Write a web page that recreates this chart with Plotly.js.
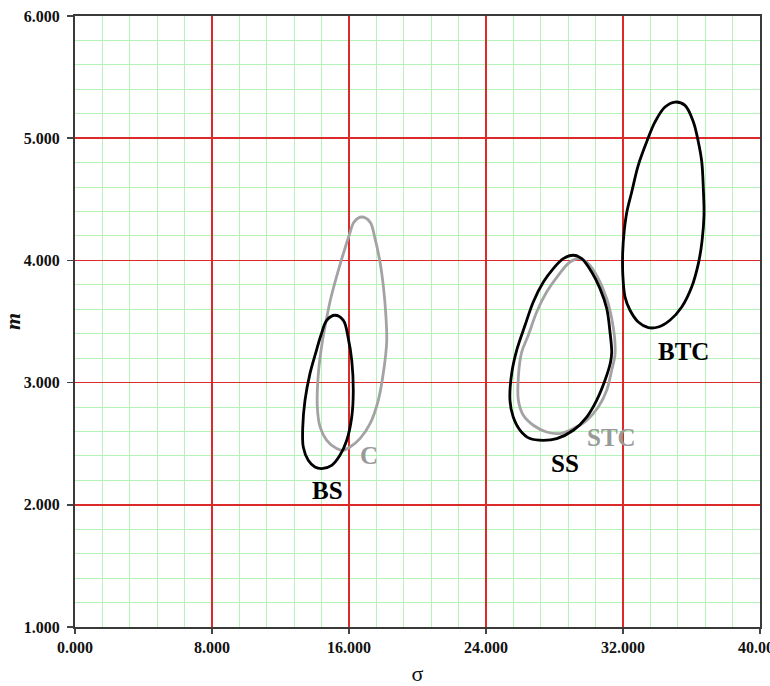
<!DOCTYPE html>
<html>
<head>
<meta charset="utf-8">
<script src="https://cdn.plot.ly/plotly-3.0.1.min.js"></script>
<style>html,body{margin:0;padding:0;background:#fff;}#chart{width:770px;height:686px;}</style>
</head>
<body>
<div id="chart"></div>
<script>
// Closed contour curves (sigma, m)
const bsX = [15.18,15.67,15.96,16.16,16.25,16.16,15.87,15.47,14.99,14.41,14.01,13.62,13.33,13.30,13.43,13.72,14.10,14.36,14.70,15.18];
const bsY = [3.551,3.510,3.360,3.182,2.937,2.718,2.528,2.405,2.323,2.296,2.309,2.364,2.473,2.637,2.855,3.074,3.264,3.387,3.510,3.551];

const cX = [16.74,17.23,17.52,17.81,18.00,18.14,18.20,18.00,17.71,17.23,16.64,16.06,15.67,15.28,14.70,14.31,14.15,14.21,14.44,14.65,14.92,15.30,15.68,16.02,16.30,16.74];
const cY = [4.355,4.314,4.178,3.987,3.796,3.578,3.332,3.074,2.855,2.664,2.542,2.473,2.446,2.460,2.528,2.637,2.800,3.074,3.332,3.496,3.680,3.880,4.060,4.210,4.315,4.355];

const ssX = [29.10,29.59,30.17,30.66,31.05,31.24,31.34,31.27,30.95,30.46,29.88,29.10,28.13,27.35,26.57,25.99,25.59,25.40,25.50,25.81,26.28,26.76,27.35,27.93,28.51,29.10];
const ssY = [4.042,4.015,3.905,3.769,3.606,3.414,3.248,3.166,3.019,2.855,2.718,2.610,2.542,2.528,2.542,2.610,2.718,2.855,3.074,3.273,3.469,3.660,3.823,3.933,4.015,4.042];

const stcX = [29.49,29.97,30.56,31.05,31.34,31.53,31.53,31.34,31.05,30.56,29.88,29.10,28.32,27.54,26.76,26.18,25.89,25.89,26.08,26.47,26.96,27.54,28.22,28.91,29.49];
const stcY = [4.015,3.974,3.851,3.687,3.524,3.332,3.223,3.101,2.937,2.800,2.691,2.624,2.583,2.596,2.651,2.732,2.855,3.046,3.248,3.387,3.578,3.741,3.878,3.987,4.015];

const btcX = [35.04,35.62,36.11,36.40,36.60,36.69,36.73,36.62,36.40,36.01,35.43,34.74,34.06,33.48,32.89,32.41,32.12,31.99,31.98,32.07,32.23,32.51,32.89,33.38,33.87,34.45,35.04];
const btcY = [5.296,5.269,5.133,4.969,4.805,4.588,4.369,4.164,3.974,3.782,3.619,3.510,3.455,3.450,3.496,3.592,3.700,3.880,4.060,4.240,4.400,4.560,4.778,4.969,5.133,5.255,5.296];

// Curve labels
const labelText = ["BS","C","SS","STC","BTC"];
const labelX = [14.72,17.17,28.61,31.30,35.56];
const labelY = [2.119,2.405,2.340,2.552,3.256];
const labelColor = ["#000000","#999999","#000000","#999999","#000000"];

// Axis ranges and tick spacing
const xRange = [0, 40], yRange = [1, 6];
const xMajor = 8, xMinor = 1.6, yMajor = 1, yMinor = 0.2;

const black = "#000000", gray = "#a3a3a3";
function curve(x, y, color) {
  return {x: x, y: y, xaxis: "x2", yaxis: "y2", type: "scatter", mode: "lines",
          line: {color: color, width: 2.8, shape: "spline", smoothing: 1.0},
          hoverinfo: "skip", showlegend: false};
}
const data = [
  {x: [], y: [], type: "scatter", mode: "lines", showlegend: false, hoverinfo: "skip"},
  curve(cX, cY, gray),
  curve(bsX, bsY, black),
  curve(stcX, stcY, gray),
  curve(ssX, ssY, black),
  curve(btcX, btcY, black)
];

const serif = "Liberation Serif, Times New Roman, serif";
const tickFont = {family: serif, size: 16, color: "#111", weight: "bold"};
const layout = {
  width: 770, height: 686,
  margin: {l: 75, r: 10, t: 16, b: 59},
  paper_bgcolor: "#ffffff", plot_bgcolor: "#ffffff",
  showlegend: false,
  // base axes: light green minor grid only
  xaxis: {range: xRange, tick0: 0, dtick: xMinor, showgrid: true, gridcolor: "#b5f2b5", gridwidth: 1,
          zeroline: false, showline: false, showticklabels: false, ticks: ""},
  yaxis: {range: yRange, tick0: 1, dtick: yMinor, showgrid: true, gridcolor: "#b5f2b5", gridwidth: 1,
          zeroline: false, showline: false, showticklabels: false, ticks: ""},
  // overlay axes: red major grid, labels, frame
  xaxis2: {
    overlaying: "x", anchor: "y2", side: "bottom",
    range: xRange, tick0: 0, dtick: xMajor, tickformat: ".3f",
    showgrid: true, gridcolor: "#dc2a2a", gridwidth: 1.5,
    zeroline: false, showline: true, linecolor: "#3a3a3a", linewidth: 2, mirror: true,
    ticks: "outside", ticklen: 5, tickcolor: "#444", tickwidth: 1.5,
    tickfont: tickFont, ticklabeloverflow: "allow",
    title: {text: "σ", font: {family: serif, size: 22, color: "#111"}, standoff: 14}
  },
  yaxis2: {
    overlaying: "y", anchor: "x2", side: "left",
    range: yRange, tick0: 1, dtick: yMajor, tickformat: ".3f",
    showgrid: true, gridcolor: "#dc2a2a", gridwidth: 1.5,
    zeroline: false, showline: true, linecolor: "#3a3a3a", linewidth: 2, mirror: true,
    ticks: "outside", ticklen: 6, tickcolor: "#444", tickwidth: 1.5,
    tickfont: tickFont, ticklabelstandoff: 4,
    title: {text: "<b><i>m</i></b>", font: {family: serif, size: 22, color: "#111"}, standoff: 6}
  },
  annotations: labelText.map((t, i) => ({
    x: labelX[i], y: labelY[i], xref: "x2", yref: "y2", text: "<b>" + t + "</b>",
    showarrow: false, xanchor: "center", yanchor: "middle",
    font: {family: serif, size: 25, color: labelColor[i]}
  }))
};

Plotly.newPlot("chart", data, layout, {displayModeBar: false, staticPlot: true});
</script>
</body>
</html>
